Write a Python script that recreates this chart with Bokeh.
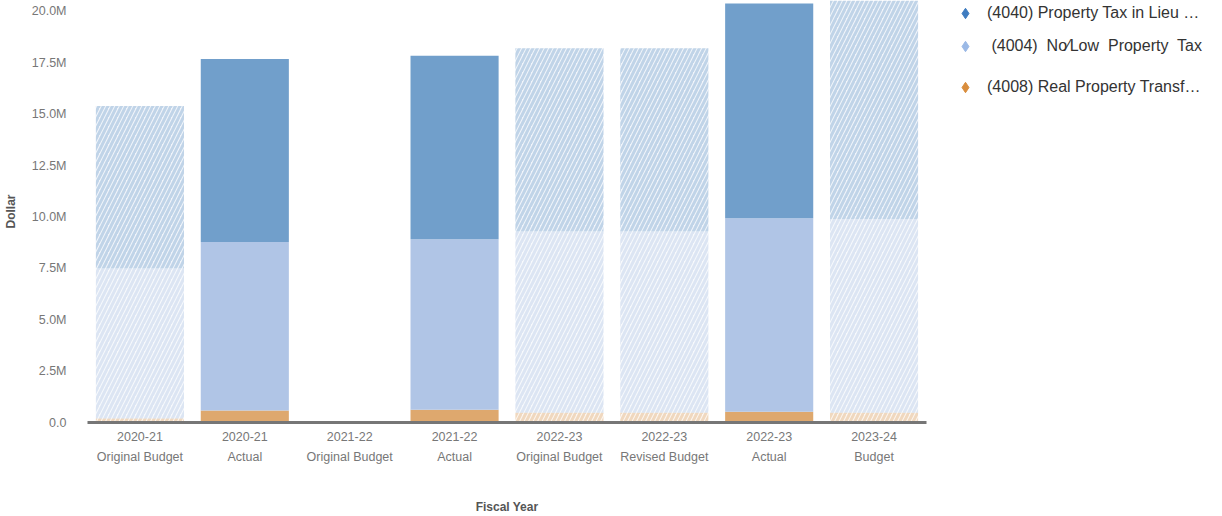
from bokeh.plotting import figure
from bokeh.models import Range1d, FixedTicker, Legend, LegendItem, ColumnDataSource, LinearAxis
from bokeh.embed import file_html
from bokeh.resources import INLINE

# ---- data ----
categories = ["2020-21\nOriginal Budget", "2020-21\nActual", "2021-22\nOriginal Budget",
              "2021-22\nActual", "2022-23\nOriginal Budget", "2022-23\nRevised Budget",
              "2022-23\nActual", "2023-24\nBudget"]
is_budget = [True, False, True, False, True, True, False, True]
real_property_transfer = [0.20e6, 0.58e6, 0.0, 0.62e6, 0.48e6, 0.48e6, 0.52e6, 0.48e6]
no_low_property_tax = [7.30e6, 8.20e6, 0.0, 8.30e6, 8.83e6, 8.83e6, 9.42e6, 9.42e6]
property_tax_in_lieu = [7.90e6, 8.90e6, 0.0, 8.92e6, 8.90e6, 8.90e6, 10.45e6, 10.90e6]
series_names = ["(4040) Property Tax in Lieu \u2026", " (4004)  No\u2044Low  Property  Tax",
                "(4008) Real Property Transf\u2026"]
y_ticks = [0, 2.5e6, 5e6, 7.5e6, 10e6, 12.5e6, 15e6, 17.5e6, 20e6]
y_tick_labels = ["0.0", "2.5M", "5.0M", "7.5M", "10.0M", "12.5M", "15.0M", "17.5M", "20.0M"]
x_title = "Fiscal Year"
y_title = "Dollar"

COL_DARK = "#719fcb"
COL_LIGHT = "#b0c5e6"
COL_ORANGE = "#dea86e"
MK_DARK = "#3f7cc0"
MK_LIGHT = "#9bb9e6"
MK_ORANGE = "#d98d3d"

FONT = "Liberation Sans"

n = len(categories)
xpos = [i + 0.5 for i in range(n)]          # category slots on the x scale

# frame spans to the right edge so the legend can sit inside it; the category
# axis itself is bounded to the n category slots
W, H = 1206, 516
LEFT, BOTTOM = 87, 93
frame_w = W - LEFT
slot_px = 839 / n
p = figure(x_range=Range1d(0, frame_w / slot_px), y_range=Range1d(0, 20.53e6),
           width=W, height=H, output_backend="svg", toolbar_location=None,
           min_border_left=LEFT, min_border_right=0, min_border_top=0, min_border_bottom=BOTTOM)
p.outline_line_color = None
p.xgrid.grid_line_color = None
p.ygrid.grid_line_color = None
p.background_fill_color = "white"

# stacked segments
segments = [(real_property_transfer, COL_ORANGE), (no_low_property_tax, COL_LIGHT),
            (property_tax_in_lieu, COL_DARK)]
bottom = [0.0] * n
for vals, col in segments:
    top = [b + v for b, v in zip(bottom, vals)]
    solid = ColumnDataSource(dict(x=[x for x, b in zip(xpos, is_budget) if not b],
                                  bottom=[bt for bt, b in zip(bottom, is_budget) if not b],
                                  top=[t for t, b in zip(top, is_budget) if not b]))
    hatched = ColumnDataSource(dict(x=[x for x, b in zip(xpos, is_budget) if b],
                                    bottom=[bt for bt, b in zip(bottom, is_budget) if b],
                                    top=[t for t, b in zip(top, is_budget) if b]))
    p.vbar(x="x", bottom="bottom", top="top", width=0.84, source=solid,
           fill_color=col, line_color=None)
    p.vbar(x="x", bottom="bottom", top="top", width=0.84, source=hatched,
           fill_color=col, fill_alpha=0.10, line_color=None,
           hatch_pattern="/", hatch_color=col, hatch_alpha=0.38,
           hatch_scale=9, hatch_weight=3)
    bottom = top

# axes
p.yaxis.ticker = FixedTicker(ticks=y_ticks)
p.yaxis.major_label_overrides = {t: l for t, l in zip(y_ticks, y_tick_labels)}
p.yaxis.axis_line_color = None
p.yaxis.major_tick_line_color = None
p.yaxis.minor_tick_line_color = None
p.yaxis.major_label_standoff = 15
p.yaxis.major_label_text_font = FONT
p.yaxis.major_label_text_font_size = "12.5px"
p.yaxis.major_label_text_color = "#777777"
p.yaxis.axis_label = y_title
p.yaxis.axis_label_text_font = FONT
p.yaxis.axis_label_text_font_size = "12px"
p.yaxis.axis_label_text_font_style = "bold"
p.yaxis.axis_label_text_color = "#555555"
p.yaxis.axis_label_standoff = 11

p.xaxis.bounds = (0, n)
p.xaxis.ticker = FixedTicker(ticks=xpos)
p.xaxis.major_label_overrides = {x: c for x, c in zip(xpos, categories)}
p.xaxis.axis_line_color = "#767676"
p.xaxis.axis_line_width = 3
p.xaxis.major_tick_line_color = None
p.xaxis.minor_tick_line_color = None
p.xaxis.major_label_standoff = 1
p.xaxis.major_label_text_font = FONT
p.xaxis.major_label_text_font_size = "12.5px"
p.xaxis.major_label_text_line_height = 1.45
p.xaxis.major_label_text_color = "#777777"
p.xaxis.major_label_orientation = "horizontal"

# x-axis title: an extra label-only axis, centred under the n category slots
title_axis = LinearAxis(ticker=FixedTicker(ticks=[n / 2]),
                        major_label_overrides={n / 2: x_title},
                        axis_line_color=None, major_tick_line_color=None,
                        minor_tick_line_color=None, major_label_standoff=27,
                        major_label_text_font=FONT, major_label_text_font_size="12px",
                        major_label_text_font_style="bold", major_label_text_color="#555555")
p.add_layout(title_axis, "below")

# legend: one legend per row, positioned in screen units inside the frame
marker_cols = [MK_DARK, MK_LIGHT, MK_ORANGE]
legend_pos = [(865, 396), (865, 363), (865, 322)]
for name, mc, pos in zip(series_names, marker_cols, legend_pos):
    src = ColumnDataSource(dict(x=[float("nan")], y=[float("nan")]))
    r = p.scatter(x="x", y="y", source=src, marker="diamond", size=12,
                  fill_color=mc, line_color=mc)
    lg = Legend(items=[LegendItem(label=name, renderers=[r])], location=pos,
                border_line_color=None, background_fill_alpha=0, padding=0, margin=0,
                glyph_width=26, glyph_height=26, label_standoff=9, label_height=26,
                label_text_font=FONT, label_text_font_size="16px", label_text_color="#333333")
    p.add_layout(lg, "center")

open("out.html", "w").write(file_html(p, INLINE))
